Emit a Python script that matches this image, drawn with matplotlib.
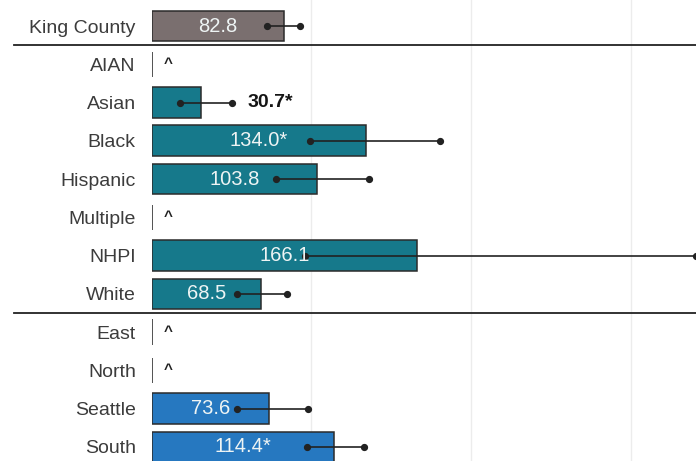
import numpy as np
import matplotlib
matplotlib.use('Agg')
import matplotlib.pyplot as plt

plt.rcParams['font.family'] = ['Liberation Sans', 'DejaVu Sans']

# Data (NaN = suppressed, shown as "^")
labels = ['King County', 'AIAN', 'Asian', 'Black', 'Hispanic', 'Multiple',
          'NHPI', 'White', 'East', 'North', 'Seattle', 'South']
values = [82.8, np.nan, 30.7, 134.0, 103.8, np.nan,
          166.1, 68.5, np.nan, np.nan, 73.6, 114.4]
lower = [72.1, np.nan, 18.0, 99.1, 78.1, np.nan,
         96.0, 53.3, np.nan, np.nan, 53.3, 97.4]
upper = [92.8, np.nan, 50.0, 180.4, 136.2, np.nan,
         341.0, 84.7, np.nan, np.nan, 98.0, 133.0]
flags = ['', '', '*', '*', '', '', '', '', '', '', '', '*']
groups = ['total', 'race', 'race', 'race', 'race', 'race',
          'race', 'race', 'region', 'region', 'region', 'region']

colors = {'total': '#7a6f6f', 'race': '#16798b', 'region': '#2678c0'}

fig = plt.figure(figsize=(6.96, 4.61), dpi=100)
ax = fig.add_axes([0.218, 0, 0.782, 1])

y = np.arange(len(labels))
for i in range(len(labels)):
    v = values[i]
    if np.isnan(v):
        ax.vlines(0, i - 0.33, i + 0.33, color='#444444', lw=1.3)
        ax.text(10, i, '^', ha='center', va='center', fontsize=11,
                fontweight='bold', color='#222222')
        continue
    ax.barh(i, v, height=0.8, color=colors[groups[i]],
            edgecolor='#2b2b2b', linewidth=1.1, zorder=2)
    ax.plot([lower[i], upper[i]], [i, i], color='#222222', lw=1.2,
            marker='o', markersize=4.2, zorder=3, clip_on=False)
    txt = f'{v:.1f}{flags[i]}'
    if v < 50:
        ax.text(upper[i] + 10, i, txt, ha='left', va='center', fontsize=14,
                fontweight='bold', color='#151515', zorder=4)
    else:
        ax.text(v / 2, i, txt, ha='center', va='center', fontsize=14.5,
                color='#eef4f4', zorder=4)

# separators between groups
for sep in [0.5, 7.5]:
    ax.plot([-86, 345], [sep, sep], color='#222222', lw=1.3,
            clip_on=False, zorder=5)

ax.set_xlim(0, 341)
ax.set_ylim(11.37, -0.68)
ax.set_xticks([100, 200, 300])
ax.xaxis.grid(True, color='#ececec', lw=1.0)
ax.set_axisbelow(True)
ax.tick_params(axis='x', bottom=False, labelbottom=False)
ax.set_yticks(y)
ax.set_yticklabels(labels, fontsize=14, color='#3c3c3c')
ax.tick_params(axis='y', left=False, pad=8)
for s in ax.spines.values():
    s.set_visible(False)

fig.savefig('out.png', dpi=100)
